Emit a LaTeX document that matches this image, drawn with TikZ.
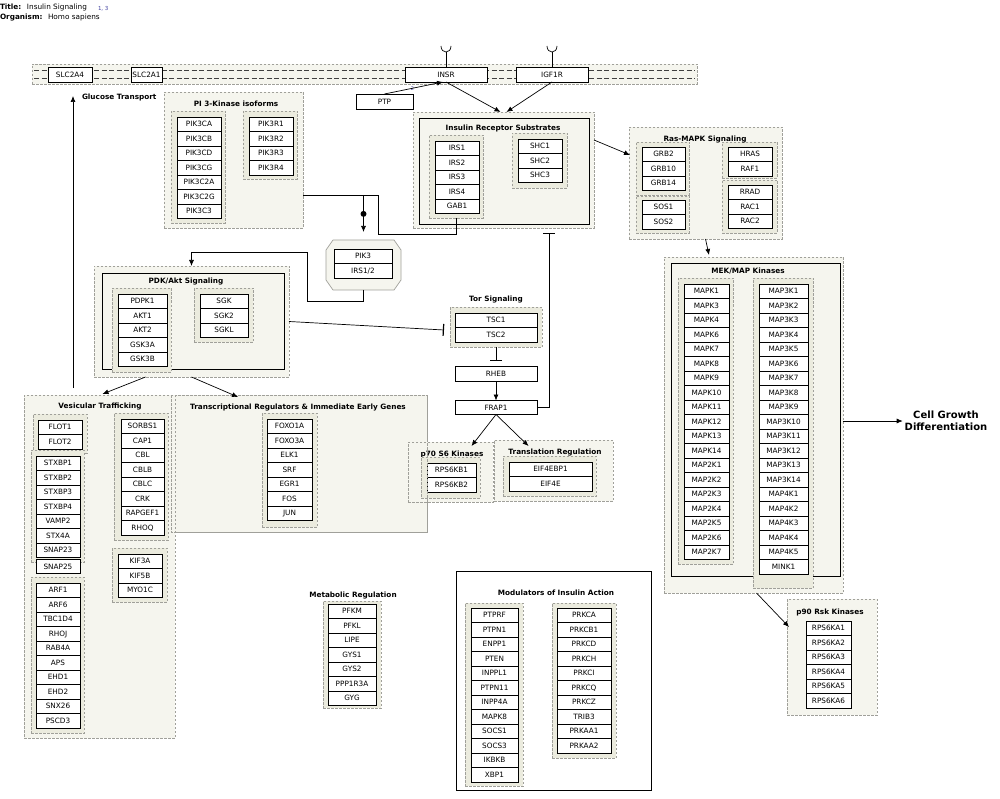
\documentclass[tikz,border=0pt]{standalone}
\usepackage{fontspec}
\setmainfont{DejaVu Sans}
\usetikzlibrary{arrows.meta,calc}

\definecolor{grpfill}{HTML}{F5F5EE}
\definecolor{subfill}{HTML}{EBEBDE}
\definecolor{grpline}{HTML}{A0A09A}
\definecolor{refblue}{HTML}{4040A0}

\newcommand{\pwGeneFont}{\fontsize{7.3}{8.8}\selectfont}
\newcommand{\pwHeadFont}{\fontsize{7.3}{8.8}\selectfont\bfseries}

\tikzset{
  base/.style={inner sep=0pt, outer sep=0pt},
  gene/.style={base, draw=black, fill=white, line width=0.8pt, minimum height=14.5pt,
               text height=5.3pt, text depth=0pt, font=\pwGeneFont},
  grpedge/.style={draw=grpline, line width=0.7pt, dash pattern=on 2.5pt off 1.5pt},
  grp/.style={base, grpedge, fill=grpfill},
  subgrp/.style={base, grpedge, fill=subfill},
  solidgrp/.style={base, draw=black, fill=grpfill, line width=0.8pt},
  cplx/.style={draw=grpline, fill=grpfill, line width=0.7pt},
  ttl/.style={base, font=\pwHeadFont},
  membline/.style={draw=black!75, line width=0.7pt, dash pattern=on 5pt off 2.5pt},
  conn/.style={draw=black, line width=0.7pt},
  arr/.style={conn, -{Latex[length=6pt,width=5pt]}},
  inh/.style={conn, -{Bar[width=12pt,line width=1.2pt]}},
}

% rectangular region given by its corners
\newcommand{\pwRegion}[6]{%
  \node[#1, anchor=north west, minimum width={(#5-#3)*1pt}, minimum height={(#6-#4)*1pt}] (#2) at (#3,#4) {};}

% stack of gene boxes: prefix, left, right, top, labels
\newcommand{\pwStack}[5]{%
  \foreach \g [count=\i] in {#5}{%
    \node[gene, minimum width={(#3-#2)*1pt}] (#1\i) at ({(#2+#3)/2},{#4+(\i-0.5)*14.5}) {\g};}}

\begin{document}
\begin{tikzpicture}[x=1pt,y=-1pt]
\useasboundingbox (0,0) rectangle (1000,799);
\fill[white] (0,0) rectangle (1000,799);

% header
\node[ttl, anchor=base west] (hdtitle) at (0,10) {Title:};
\node[base, font=\pwGeneFont, anchor=base west] (hdname) at (27,10) {Insulin Signaling};
\node[base, font=\fontsize{5.5}{6}\selectfont, text=refblue, anchor=base west] (hdref) at (98,11) {1, 3};
\node[ttl, anchor=base west] (hdorg) at (0,19.5) {Organism:};
\node[base, font=\pwGeneFont, anchor=base west] (hdspec) at (48,19.5) {Homo sapiens};

% plasma membrane
\pwRegion{grp}{membrane}{32}{64}{697}{84}
\draw[membline] ($(membrane.north west)+(2,6)$) -- ($(membrane.north east)+(-2,6)$);
\draw[membline] ($(membrane.north west)+(2,14)$) -- ($(membrane.north east)+(-2,14)$);
\node[gene, minimum width=44pt] (slc2a4) at (70,75) {SLC2A4};
\node[gene, minimum width=31pt] (slc2a1) at (146.5,75) {SLC2A1};
\node[gene, minimum width=82pt, minimum height=15pt] (insr) at (446,74.5) {INSR};
\node[gene, minimum width=72pt, minimum height=15pt] (igf1r) at (552,74.5) {IGF1R};
\draw[conn] (insr.north) -- ++(0,-15) coordinate (insrtop);
\draw[conn] ($(insrtop)+(-5,-6)$) .. controls ($(insrtop)+(-5,2)$) and ($(insrtop)+(5,2)$) .. ($(insrtop)+(5,-6)$);
\draw[conn] (igf1r.north) -- ++(0,-15) coordinate (igftop);
\draw[conn] ($(igftop)+(-5,-6)$) .. controls ($(igftop)+(-5,2)$) and ($(igftop)+(5,2)$) .. ($(igftop)+(5,-6)$);
\node[gene, minimum width=57pt, minimum height=15pt] (ptp) at (384.5,101.5) {PTP};
\node[base, font=\fontsize{5}{6}\selectfont, text=refblue] (ptpref) at (412.5,89) {2};

\node[ttl, anchor=west] (gluc) at (82,97) {Glucose Transport};

% PI 3-kinase isoforms
\pwRegion{grp}{pi3kg}{164}{92}{303}{228}
\node[ttl] (pi3kt) at (236,104) {PI 3-Kinase isoforms};
\pwRegion{subgrp}{pi3kl}{171}{111}{225}{223}
\pwStack{pikc}{177}{221}{117}{PIK3CA,PIK3CB,PIK3CD,PIK3CG,PIK3C2A,PIK3C2G,PIK3C3}
\pwRegion{subgrp}{pi3kr}{243}{111}{297}{179}
\pwStack{pikr}{249}{293}{117}{PIK3R1,PIK3R2,PIK3R3,PIK3R4}

% insulin receptor substrates
\pwRegion{grp}{irsg}{413}{112}{594}{228}
\pwRegion{solidgrp}{irsin}{419}{118}{589}{224}
\node[ttl] (irst) at (503,128) {Insulin Receptor Substrates};
\pwRegion{subgrp}{irssub}{429}{135}{483}{218}
\pwStack{irs}{435}{479}{141}{IRS1,IRS2,IRS3,IRS4,GAB1}
\pwRegion{subgrp}{shcsub}{512}{133}{567}{188}
\pwStack{shc}{518}{562}{139}{SHC1,SHC2,SHC3}

% PI3K / IRS complex
\node[base, minimum width=75pt, minimum height=50pt] (pik3c) at (363.5,265) {};
\draw[cplx] ($(pik3c.north west)+(7,0)$) -- ($(pik3c.north east)+(-7,0)$)
  -- ($(pik3c.north east)+(0,10)$) -- ($(pik3c.south east)+(0,-10)$)
  -- ($(pik3c.south east)+(-7,0)$) -- ($(pik3c.south west)+(7,0)$)
  -- ($(pik3c.south west)+(0,-10)$) -- ($(pik3c.north west)+(0,10)$) -- cycle;
\pwStack{cx}{334}{392}{249}{PIK3,IRS1/2}

% Ras-MAPK signaling
\pwRegion{grp}{rasg}{629}{127}{782}{239}
\pwRegion{subgrp}{grbsub}{636}{142}{689}{195}
\pwStack{grb}{642}{685}{147}{GRB2,GRB10,GRB14}
\pwRegion{subgrp}{sossub}{636}{196}{689}{233}
\pwStack{sos}{642}{685}{200}{SOS1,SOS2}
\pwRegion{subgrp}{hrassub}{722}{142}{777}{178}
\pwStack{hras}{728}{772}{147}{HRAS,RAF1}
\pwRegion{subgrp}{rradsub}{722}{180}{777}{233}
\pwStack{rrad}{728}{772}{185}{RRAD,RAC1,RAC2}
\node[ttl] (rast) at (705,140) {Ras-MAPK Signaling};

% PDK/Akt signaling
\pwRegion{grp}{pdkg}{94}{266}{289}{377}
\pwRegion{solidgrp}{pdkin}{102}{273}{284}{369}
\node[ttl] (pdkt) at (186,282) {PDK/Akt Signaling};
\pwRegion{subgrp}{pdksub}{112}{288}{171}{372}
\pwStack{pdk}{118}{167}{294}{PDPK1,AKT1,AKT2,GSK3A,GSK3B}
\pwRegion{subgrp}{sgksub}{194}{288}{253}{342}
\pwStack{sgk}{200}{248}{294}{SGK,SGK2,SGKL}

% Tor signaling
\node[ttl] (tort) at (496,300) {Tor Signaling};
\pwRegion{subgrp}{torsub}{450}{307}{542}{347}
\pwStack{tsc}{455}{537}{313}{TSC1,TSC2}
\node[gene, minimum width=82pt] (rheb) at (496,374) {RHEB};
\node[gene, minimum width=82pt, minimum height=14pt] (frap) at (496,407.5) {FRAP1};

% transcriptional regulators and vesicular trafficking
\pwRegion{grp}{trg}{171}{395}{427}{532}
\pwRegion{grp}{vesg}{24}{395}{175}{738}
\draw[grpedge] (trg.north west) rectangle (trg.south east);
\node[ttl] (trt) at (298,408) {Transcriptional Regulators \& Immediate Early Genes};
\pwRegion{subgrp}{foxsub}{262}{413}{317}{527}
\pwStack{fox}{267}{312}{419}{FOXO1A,FOXO3A,ELK1,SRF,EGR1,FOS,JUN}

\node[ttl] (vest) at (100,407) {Vesicular Trafficking};
\pwRegion{subgrp}{flotsub}{33}{414}{87}{453}
\pwStack{flot}{38}{82}{420}{FLOT1,FLOT2}
\pwRegion{subgrp}{stxsub}{31}{450}{84}{562}
\pwStack{stx}{36}{80}{456}{STXBP1,STXBP2,STXBP3,STXBP4,VAMP2,STX4A,SNAP23}
\node[gene, minimum width=44pt] (snap25) at (58,566.5) {SNAP25};
\pwRegion{subgrp}{arfsub}{31}{577}{84}{733}
\pwStack{arf}{36}{80}{583}{ARF1,ARF6,TBC1D4,RHOJ,RAB4A,APS,EHD1,EHD2,SNX26,PSCD3}
\pwRegion{subgrp}{sorbsub}{114}{413}{168}{540}
\pwStack{sorb}{121}{164}{419}{SORBS1,CAP1,CBL,CBLB,CBLC,CRK,RAPGEF1,RHOQ}
\pwRegion{subgrp}{kifsub}{112}{548}{167}{602}
\pwStack{kif}{118}{162}{554}{KIF3A,KIF5B,MYO1C}

% p70 S6 kinases and translation regulation
\pwRegion{grp}{p70g}{408}{442}{493}{502}
\node[ttl] (p70t) at (452,454) {p70 S6 Kinases};
\pwRegion{subgrp}{p70sub}{421}{457}{480}{498}
\pwStack{rps6kb}{427}{476}{463}{RPS6KB1,RPS6KB2}
\draw[grpedge] (trg.north east) -- (trg.south east);
\pwRegion{grp}{trlg}{494}{440}{613}{501}
\node[ttl] (trlt) at (555,453) {Translation Regulation};
\pwRegion{subgrp}{trlsub}{503}{456}{596}{496}
\pwStack{eif}{509}{592}{462}{EIF4EBP1,EIF4E}

% MEK/MAP kinases
\pwRegion{grp}{mekg}{664}{257}{843}{593}
\pwRegion{solidgrp}{mekin}{671}{263}{840}{576}
\node[ttl] (mekt) at (748,271) {MEK/MAP Kinases};
\pwRegion{subgrp}{mapksub}{678}{278}{733}{564}
\pwStack{mapk}{684}{729}{284}{MAPK1,MAPK3,MAPK4,MAPK6,MAPK7,MAPK8,MAPK9,MAPK10,MAPK11,MAPK12,MAPK13,MAPK14,MAP2K1,MAP2K2,MAP2K3,MAP2K4,MAP2K5,MAP2K6,MAP2K7}
\pwRegion{subgrp}{mapiiisub}{753}{278}{813}{588}
\pwStack{mapiii}{759}{808}{284}{MAP3K1,MAP3K2,MAP3K3,MAP3K4,MAP3K5,MAP3K6,MAP3K7,MAP3K8,MAP3K9,MAP3K10,MAP3K11,MAP3K12,MAP3K13,MAP3K14,MAP4K1,MAP4K2,MAP4K3,MAP4K4,MAP4K5,MINK1}

\node[base, font=\fontsize{10}{12}\selectfont\bfseries, align=center] (cell) at (946,421) {Cell Growth\\Differentiation};

% p90 Rsk kinases
\pwRegion{grp}{p90g}{787}{599}{877}{715}
\node[ttl] (p90t) at (830,612) {p90 Rsk Kinases};
\pwStack{rsk}{806}{851}{621}{RPS6KA1,RPS6KA2,RPS6KA3,RPS6KA4,RPS6KA5,RPS6KA6}

% metabolic regulation
\node[ttl] (mett) at (353,596) {Metabolic Regulation};
\pwRegion{subgrp}{metsub}{323}{601}{381}{708}
\pwStack{met}{328}{376}{604}{PFKM,PFKL,LIPE,GYS1,GYS2,PPP1R3A,GYG}

% modulators of insulin action
\pwRegion{solidgrp, fill=white}{modg}{456}{571}{651}{790}
\node[ttl] (modt) at (556,593) {Modulators of Insulin Action};
\pwRegion{subgrp}{modlsub}{465}{603}{523}{786}
\pwStack{modl}{471}{518}{608}{PTPRF,PTPN1,ENPP1,PTEN,INPPL1,PTPN11,INPP4A,MAPK8,SOCS1,SOCS3,IKBKB,XBP1}
\pwRegion{subgrp}{modrsub}{552}{603}{616}{758}
\pwStack{modr}{557}{611}{608}{PRKCA,PRKCB1,PRKCD,PRKCH,PRKCI,PRKCQ,PRKCZ,TRIB3,PRKAA1,PRKAA2}

% interactions
\draw[arr] (ptp.north) -- ($(insr.south)+(-3,0)$);
\draw[arr] (insr.south) -- ($(irsg.north)+(-3,0)$);
\draw[arr] (igf1r.south) -- ($(irsg.north)+(3,0)$);
\draw[arr] ($(irsg.north east)+(0,28)$) -- ($(rasg.north west)+(1,28)$);

\coordinate (pj) at (363.5,195);
\draw[conn] (pi3kg.east |- pj) -- (pj);
\draw[conn] (irssub.south) |- (378,234) |- (pj);
\draw[arr, shorten >=8pt] (pj) -- node[pos=0.42, base, circle, fill=black, minimum size=6pt] (pjdot) {} (pik3c.north);
\draw[arr] (pik3c.south) -- ++(0,11) -| (307,252) -| (pdkg.north);

\draw[inh] (frap.east) -| ($(irsg.south west)+(136,5)$);
\draw[inh] (pdkg.east) -- ($(torsub.west)+(-6,3)$);
\draw[inh] (torsub.south) -- ($(rheb.north)+(0,-6)$);
\draw[arr] (rheb.south) -- (frap.north);
\draw[arr] (frap.south) -- ($(p70g.north)+(21,4)$);
\draw[arr] (frap.south) -- ($(trlg.north)+(-25,6)$);

\draw[arr] ($(pdkg.south)+(-46,0)$) -- ($(vesg.north)+(3,-1)$);
\draw[arr] (pdkg.south) -- ($(trg.north west)+(67,2)$);
\draw[arr] ($(vesg.north west)+(49,-7)$) -- ($(gluc.west)+(-9,-1)$);

\draw[arr] (rasg.south) -- ($(mekg.north west)+(45,-2)$);
\draw[arr, shorten >=2pt] (mekg.east |- cell.west) -- (cell.west);
\draw[arr] ($(mekg.south)+(3,0)$) -- ($(p90g.north west)+(2,28)$);
\end{tikzpicture}
\end{document}
